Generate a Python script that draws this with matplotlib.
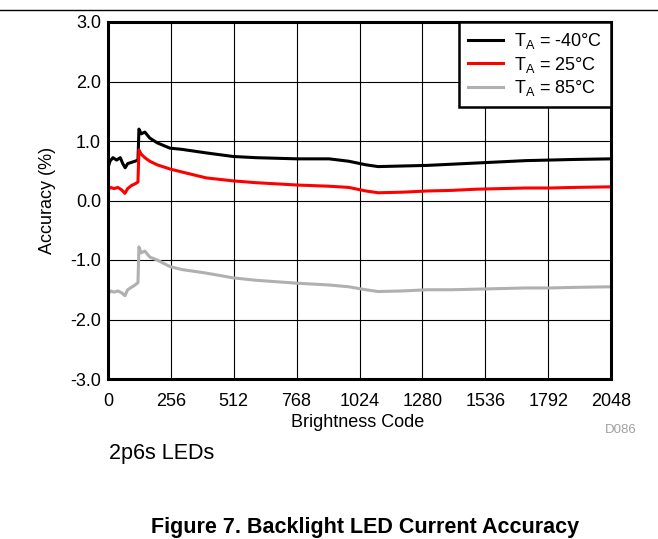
import numpy as np
import matplotlib.pyplot as plt

plt.rcParams['font.family'] = ['Liberation Sans', 'DejaVu Sans']

# brightness code vs accuracy (%)
code_m40 = [0, 8, 20, 35, 50, 60, 70, 80, 95, 110, 122, 126, 135, 150, 170, 200, 252, 300, 400, 509, 600, 770, 900, 980, 1050, 1100, 1200, 1300, 1400, 1500, 1600, 1700, 1800, 1900, 2048]
acc_m40 = [0.55, 0.66, 0.72, 0.68, 0.72, 0.62, 0.55, 0.62, 0.64, 0.66, 0.68, 1.20, 1.12, 1.15, 1.05, 0.97, 0.88, 0.86, 0.80, 0.74, 0.72, 0.70, 0.70, 0.66, 0.60, 0.57, 0.58, 0.59, 0.61, 0.63, 0.65, 0.67, 0.68, 0.69, 0.70]

code_25 = [0, 10, 25, 40, 55, 69, 80, 95, 110, 122, 126, 135, 150, 170, 200, 252, 300, 400, 509, 600, 770, 900, 980, 1050, 1100, 1200, 1300, 1400, 1500, 1600, 1700, 1800, 1900, 2048]
acc_25 = [0.18, 0.22, 0.20, 0.22, 0.18, 0.12, 0.20, 0.25, 0.28, 0.31, 0.85, 0.78, 0.72, 0.66, 0.60, 0.53, 0.48, 0.38, 0.33, 0.30, 0.26, 0.24, 0.22, 0.16, 0.13, 0.14, 0.16, 0.17, 0.19, 0.20, 0.21, 0.21, 0.22, 0.23]

code_85 = [0, 10, 25, 40, 55, 69, 80, 95, 110, 122, 126, 135, 150, 170, 200, 252, 300, 400, 509, 600, 770, 900, 980, 1050, 1100, 1200, 1300, 1400, 1500, 1600, 1700, 1800, 1900, 2048]
acc_85 = [-1.58, -1.52, -1.54, -1.52, -1.55, -1.60, -1.50, -1.46, -1.42, -1.38, -0.78, -0.88, -0.85, -0.95, -1.00, -1.11, -1.16, -1.22, -1.30, -1.34, -1.39, -1.42, -1.45, -1.50, -1.53, -1.52, -1.50, -1.50, -1.49, -1.48, -1.47, -1.47, -1.46, -1.45]

xticks = [0, 256, 512, 768, 1024, 1280, 1536, 1792, 2048]
yticks = [-3.0, -2.0, -1.0, 0.0, 1.0, 2.0, 3.0]

fig = plt.figure(figsize=(6.58, 5.39), dpi=100)
ax = fig.add_axes([108/658, 1-379/539, 503/658, 357/539])

ax.plot(code_m40, acc_m40, color='black', lw=2.2, label=r'T$_\mathregular{A}$ = -40°C')
ax.plot(code_25, acc_25, color='#ff0000', lw=2.2, label=r'T$_\mathregular{A}$ = 25°C')
ax.plot(code_85, acc_85, color='#b0b0b0', lw=2.2, label=r'T$_\mathregular{A}$ = 85°C')

ax.set_xlim(0, 2048)
ax.set_ylim(-3, 3)
ax.set_xticks(xticks)
ax.set_yticks(yticks)
ax.set_yticklabels([f'{v:.1f}' for v in yticks])
ax.tick_params(length=0, labelsize=13)
ax.tick_params(axis='x', pad=10)
ax.tick_params(axis='y', pad=5)
ax.grid(True, color='black', lw=0.8)
for s in ax.spines.values():
    s.set_linewidth(2.2)

ax.set_xlabel('Brightness Code', fontsize=13)
ax.set_ylabel('Accuracy (%)', fontsize=13)
ax.xaxis.set_label_coords(0.497, -0.122)
ax.yaxis.set_label_coords(-0.121, 0.5)
ax.xaxis.label.set_va('center')
ax.yaxis.label.set_va('center')

leg = ax.legend(loc='upper right', fontsize=13, frameon=True, fancybox=False,
                borderaxespad=0, handlelength=1.95, handletextpad=0.6,
                labelspacing=0.2, borderpad=0.5)
leg.get_frame().set_edgecolor('black')
leg.get_frame().set_linewidth(1.8)
leg.get_frame().set_alpha(1)

fig.add_artist(plt.Line2D([0, 1], [1-10/539, 1-10/539], color='black', lw=1))
fig.text(621/658, 1-430/539, 'D086', fontsize=9.5, color='#a0a0a0', ha='center', va='center')
fig.text(109/658, 1-453/539, '2p6s LEDs', fontsize=15.5, ha='left', va='center')
fig.text(365/658, 1-528/539, 'Figure 7. Backlight LED Current Accuracy', fontsize=15.5,
         fontweight='bold', ha='center', va='center')

fig.savefig('out.png', dpi=100)
